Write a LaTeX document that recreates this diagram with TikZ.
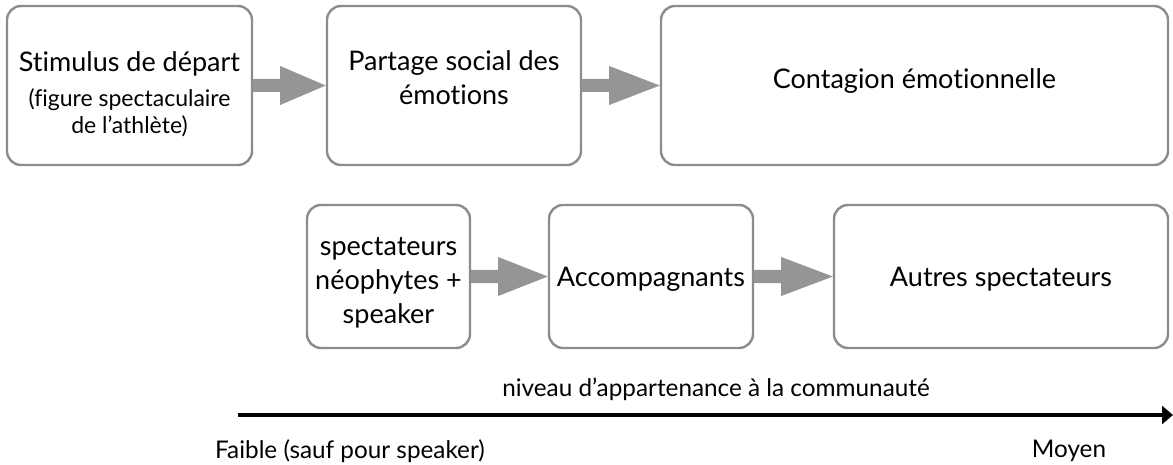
\documentclass[tikz,border=0pt]{standalone}
\usepackage{fontspec}
\setmainfont{Lato}[Ligatures=NoCommon]
\usetikzlibrary{calc,arrows.meta}
\definecolor{boxgray}{HTML}{8C8C8C}
\definecolor{arrowgray}{HTML}{959595}
\newcommand{\blockarrow}[2]{%
  \fill[arrowgray] ($(#1.east)+(0,-6.5)$) -- ($(#1.east)+(27,-6.5)$) -- ($(#1.east)+(27,-19.5)$)
    -- (#2.west) -- ($(#1.east)+(27,19.5)$) -- ($(#1.east)+(27,6.5)$) -- ($(#1.east)+(0,6.5)$) -- cycle;}
\newcommand{\lines}[1]{\begin{tabular}[t]{@{}c@{}}#1\end{tabular}}
\tikzset{
  flowbox/.style={draw=boxgray, line width=2.4pt, rounded corners=14pt, fill=white,
    inner sep=0pt, font=\fontsize{27}{35}\selectfont},
  axislabel/.style={font=\fontsize{24.3}{28}\selectfont, inner sep=0pt, anchor=base}
}
\begin{document}
\begin{tikzpicture}[x=1pt,y=-1pt]
\useasboundingbox (0,0) rectangle (1173,465);
% row 1
\node[flowbox, minimum width=245pt, minimum height=159pt, text height=20pt, text depth=47pt] (b1) at (129.5,85.5)
  {\lines{Stimulus de départ\\{\fontsize{23}{30}\selectfont (figure spectaculaire}\\[-8pt]{\fontsize{23}{30}\selectfont de l’athlète)}}};
\node[flowbox, minimum width=254pt, minimum height=159pt, text height=20pt, text depth=49pt] (b2) at (454,85.5)
  {\lines{Partage social des\\[-1pt]émotions}};
\node[flowbox, minimum width=507pt, minimum height=159pt, text height=20pt, text depth=13pt] (b3) at (914.5,85.5)
  {Contagion émotionnelle};
% row 2
\node[flowbox, minimum width=163pt, minimum height=143pt, text height=20pt, text depth=63pt] (b4) at (388.5,276.5)
  {\lines{spectateurs\\[-1pt]néophytes +\\[-1pt]speaker}};
\node[flowbox, minimum width=204pt, minimum height=143pt, text height=24pt, text depth=3pt] (b5) at (651,276.5)
  {Accompagnants};
\node[flowbox, minimum width=334pt, minimum height=143pt, text height=24pt, text depth=3pt] (b6) at (1001,276.5)
  {Autres spectateurs};
% block arrows
\blockarrow{b1}{b2}
\blockarrow{b2}{b3}
\blockarrow{b4}{b5}
\blockarrow{b5}{b6}
% axis
\coordinate (ax0) at (238,415);
\coordinate (ax1) at (1173,415);
\draw[line width=4.5pt, -{Triangle[length=11pt,width=18pt]}] (ax0) -- (ax1);
\node[axislabel] (lab) at (716,396) {niveau d’appartenance à la communauté};
\node[axislabel] (faible) at (350,458) {Faible (sauf pour speaker)};
\node[axislabel] (moyen) at (1069,457) {Moyen};
\end{tikzpicture}
\end{document}
